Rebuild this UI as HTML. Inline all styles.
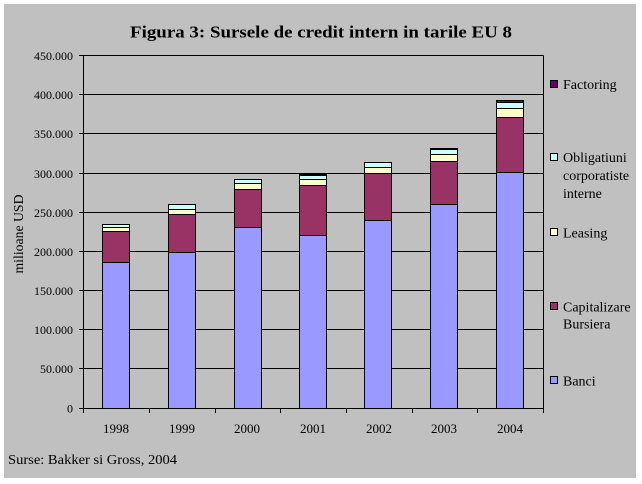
<!DOCTYPE html>
<html>
<head>
<meta charset="utf-8">
<style>
  html, body { margin:0; padding:0; background:#ffffff; }
  svg { display:block; }
  text { font-family: "Liberation Serif", "Times New Roman", serif; fill:#000; }
</style>
</head>
<body>
<svg width="642" height="484" viewBox="0 0 642 484" xmlns="http://www.w3.org/2000/svg">
  <rect x="0" y="0" width="642" height="484" fill="#ffffff"/>
  <rect x="4" y="4" width="632" height="474" fill="#c0c0c0"/>

  <!-- Title -->
  <text x="321" y="37.5" font-size="17" font-weight="bold" text-anchor="middle" textLength="382" lengthAdjust="spacingAndGlyphs">Figura 3: Sursele de credit intern in tarile EU 8</text>

  <!-- Gridlines -->
  <g stroke="#000" stroke-width="1" shape-rendering="crispEdges">
    <line x1="79" y1="55.5" x2="543.5" y2="55.5"/>
    <line x1="79" y1="94.5" x2="543.5" y2="94.5"/>
    <line x1="79" y1="133.5" x2="543.5" y2="133.5"/>
    <line x1="79" y1="173.5" x2="543.5" y2="173.5"/>
    <line x1="79" y1="212.5" x2="543.5" y2="212.5"/>
    <line x1="79" y1="251.5" x2="543.5" y2="251.5"/>
    <line x1="79" y1="290.5" x2="543.5" y2="290.5"/>
    <line x1="79" y1="329.5" x2="543.5" y2="329.5"/>
    <line x1="79" y1="368.5" x2="543.5" y2="368.5"/>
    <line x1="79" y1="408.5" x2="543.5" y2="408.5"/>
    <!-- axes -->
    <line x1="83.5" y1="55.5" x2="83.5" y2="408.5"/>
    <line x1="543.5" y1="55.5" x2="543.5" y2="413"/>
    <!-- x ticks -->
    <line x1="83.5" y1="408.5" x2="83.5" y2="413"/>
    <line x1="149.5" y1="408.5" x2="149.5" y2="413"/>
    <line x1="215.5" y1="408.5" x2="215.5" y2="413"/>
    <line x1="280.5" y1="408.5" x2="280.5" y2="413"/>
    <line x1="346.5" y1="408.5" x2="346.5" y2="413"/>
    <line x1="412.5" y1="408.5" x2="412.5" y2="413"/>
    <line x1="477.5" y1="408.5" x2="477.5" y2="413"/>
  </g>

  <!-- Y labels -->
  <g font-size="12" text-anchor="end">
    <text x="73" y="60">450.000</text>
    <text x="73" y="99">400.000</text>
    <text x="73" y="138">350.000</text>
    <text x="73" y="178">300.000</text>
    <text x="73" y="217">250.000</text>
    <text x="73" y="256">200.000</text>
    <text x="73" y="295">150.000</text>
    <text x="73" y="334">100.000</text>
    <text x="73" y="373">50.000</text>
    <text x="73" y="412.5">0</text>
  </g>

  <!-- Y axis title -->
  <text transform="translate(23,234) rotate(-90)" font-size="14" text-anchor="middle" textLength="79" lengthAdjust="spacingAndGlyphs">milioane USD</text>

  <!-- X labels -->
  <g font-size="13" text-anchor="middle">
    <text x="116" y="433">1998</text>
    <text x="182" y="433">1999</text>
    <text x="247" y="433">2000</text>
    <text x="313" y="433">2001</text>
    <text x="379" y="433">2002</text>
    <text x="444" y="433">2003</text>
    <text x="510" y="433">2004</text>
  </g>

  <!-- Bars -->
  <g stroke="#000" stroke-width="1" shape-rendering="crispEdges">
    <!-- 1998 -->
    <rect x="102.5" y="262.5" width="27" height="146" fill="#9999ff"/>
    <rect x="102.5" y="231.5" width="27" height="31" fill="#993366"/>
    <rect x="102.5" y="227.5" width="27" height="4" fill="#ffffcc"/>
    <rect x="102.5" y="224.5" width="27" height="3" fill="#ccffff"/>
    <!-- 1999 -->
    <rect x="168.5" y="252.5" width="27" height="156" fill="#9999ff"/>
    <rect x="168.5" y="214.5" width="27" height="38" fill="#993366"/>
    <rect x="168.5" y="209.5" width="27" height="5" fill="#ffffcc"/>
    <rect x="168.5" y="204.5" width="27" height="5" fill="#ccffff"/>
    <!-- 2000 -->
    <rect x="234.5" y="227.5" width="27" height="181" fill="#9999ff"/>
    <rect x="234.5" y="189.5" width="27" height="38" fill="#993366"/>
    <rect x="234.5" y="183.5" width="27" height="6" fill="#ffffcc"/>
    <rect x="234.5" y="179.5" width="27" height="4" fill="#ccffff"/>
    <!-- 2001 -->
    <rect x="299.5" y="235.5" width="27" height="173" fill="#9999ff"/>
    <rect x="299.5" y="185.5" width="27" height="50" fill="#993366"/>
    <rect x="299.5" y="179.5" width="27" height="6" fill="#ffffcc"/>
    <rect x="299.5" y="175.5" width="27" height="4" fill="#ccffff"/>
    <rect x="299.5" y="174.5" width="27" height="1" fill="#660066"/>
    <!-- 2002 -->
    <rect x="364.5" y="220.5" width="27" height="188" fill="#9999ff"/>
    <rect x="364.5" y="173.5" width="27" height="47" fill="#993366"/>
    <rect x="364.5" y="167.5" width="27" height="6" fill="#ffffcc"/>
    <rect x="364.5" y="162.5" width="27" height="5" fill="#ccffff"/>
    <!-- 2003 -->
    <rect x="430.5" y="204.5" width="27" height="204" fill="#9999ff"/>
    <rect x="430.5" y="161.5" width="27" height="43" fill="#993366"/>
    <rect x="430.5" y="154.5" width="27" height="7" fill="#ffffcc"/>
    <rect x="430.5" y="149.5" width="27" height="5" fill="#ccffff"/>
    <rect x="430.5" y="148.5" width="27" height="1" fill="#660066"/>
    <!-- 2004 -->
    <rect x="496.5" y="172.5" width="27" height="236" fill="#9999ff"/>
    <rect x="496.5" y="117.5" width="27" height="55" fill="#993366"/>
    <rect x="496.5" y="108.5" width="27" height="9" fill="#ffffcc"/>
    <rect x="496.5" y="102.5" width="27" height="6" fill="#ccffff"/>
    <rect x="496.5" y="100.5" width="27" height="2" fill="#660066"/>
  </g>

  <!-- Legend -->
  <g stroke="#000" stroke-width="1" shape-rendering="crispEdges">
    <rect x="550.5" y="80.5" width="7" height="7" fill="#660066"/>
    <rect x="550.5" y="153.5" width="7" height="7" fill="#ccffff"/>
    <rect x="550.5" y="228.5" width="7" height="7" fill="#ffffcc"/>
    <rect x="550.5" y="302.5" width="7" height="7" fill="#993366"/>
    <rect x="550.5" y="376.5" width="7" height="7" fill="#9999ff"/>
  </g>
  <g font-size="14">
    <text x="563" y="89">Factoring</text>
    <text x="563" y="162">Obligatiuni</text>
    <text x="563" y="180">corporatiste</text>
    <text x="563" y="198">interne</text>
    <text x="563" y="237.5">Leasing</text>
    <text x="563" y="311.5">Capitalizare</text>
    <text x="563" y="328.5">Bursiera</text>
    <text x="563" y="385.5">Banci</text>
  </g>

  <!-- Source -->
  <text x="8" y="464" font-size="14" textLength="169" lengthAdjust="spacingAndGlyphs">Surse: Bakker si Gross, 2004</text>
</svg>
</body>
</html>
